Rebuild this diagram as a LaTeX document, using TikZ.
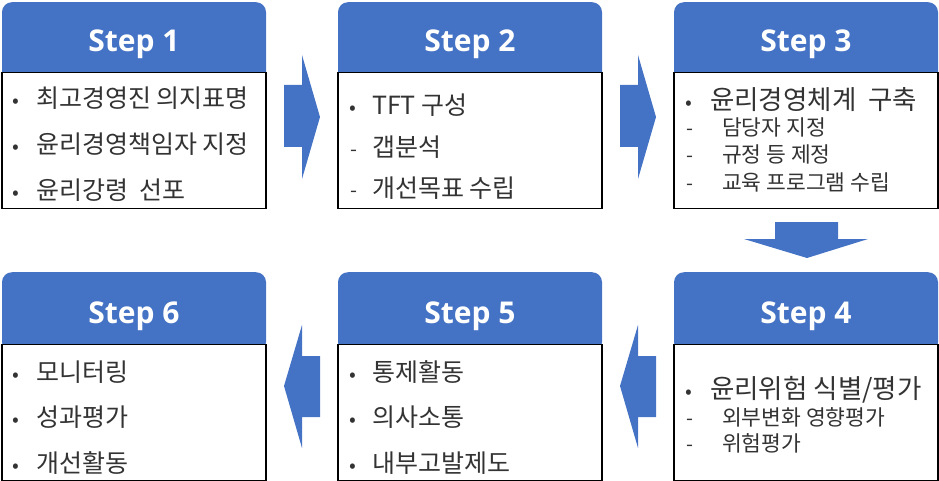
\documentclass[tikz,border=0pt]{standalone}
\usepackage{fontspec}
\setmainfont{Noto Sans CJK KR}
\newfontfamily\stepfont{Open Sans}
\usetikzlibrary{positioning}
\definecolor{hblue}{HTML}{4472C4}
\definecolor{txt}{HTML}{333333}
\tikzset{
  hdr/.style={fill=hblue, rounded corners=10pt, minimum width=264pt, minimum height=80pt, anchor=north, inner sep=0pt},
  body/.style={draw=black, line width=1.3pt, fill=white, minimum width=264pt, minimum height=136pt, anchor=north, inner sep=0pt},
  title/.style={text=white, font=\stepfont\bfseries\fontsize{30}{30}\selectfont, anchor=base},
  item/.style={text=txt, font=\fontsize{25}{25}\selectfont, anchor=base west, inner sep=0pt},
  itemb/.style={text=txt, font=\fontsize{26.5}{26.5}\selectfont, anchor=base west, inner sep=0pt},
  sub/.style={text=txt, font=\fontsize{21.5}{21.5}\selectfont, anchor=base west, inner sep=0pt},
  bul/.style={text=txt, font=\fontsize{20}{20}\selectfont, anchor=base, inner sep=0pt},
  blk/.style={fill=hblue}
}
\begin{document}
\begin{tikzpicture}[x=1pt,y=-1pt]
\useasboundingbox (0,0) rectangle (939,481);
% headers
\node[hdr] (h1) at (134,2) {};
\node[hdr] (h2) at (470,2) {};
\node[hdr] (h3) at (806,2) {};
\node[hdr] (h6) at (134,272) {};
\node[hdr] (h5) at (470,272) {};
\node[hdr] (h4) at (806,272) {};
% bodies
\node[body] (b1) at (134,72) {};
\node[body] (b2) at (470,72) {};
\node[body] (b3) at (806,72) {};
\node[body] (b6) at (134,344) {};
\node[body] (b5) at (470,344) {};
\node[body] (b4) at (806,344) {};
% titles
\node[title] (t1) at (134,52) {Step 1};
\node[title] (t2) at (470,52) {Step 2};
\node[title] (t3) at (806,52) {Step 3};
\node[title] (t6) at (134,323) {Step 6};
\node[title] (t5) at (470,323) {Step 5};
\node[title] (t4) at (806,323) {Step 4};
% box 1
\node[bul] (d11) at (16,108) {•};
\node[item] (i11) at (36,108) {최고경영진 의지표명};
\node[bul] (d12) at (16,154) {•};
\node[item] (i12) at (36,154) {윤리경영책임자 지정};
\node[bul] (d13) at (16,200) {•};
\node[item] (i13) at (36,200) {윤리강령\ \ 선포};
% box 2
\node[bul] (d21) at (353,115) {•};
\node[item] (i21) at (372,115) {TFT 구성};
\node[bul] (d22) at (354,157) {-};
\node[item] (i22) at (372,157) {갭분석};
\node[bul] (d23) at (354,197) {-};
\node[item] (i23) at (372,197) {개선목표 수립};
% box 3
\node[bul] (d31) at (689,110) {•};
\node[itemb] (i31) at (710,110) {윤리경영체계\ \ 구축};
\node[bul] (d32) at (690,136) {-};
\node[sub] (i32) at (722,136) {담당자 지정};
\node[bul] (d33) at (690,163) {-};
\node[sub] (i33) at (722,163) {규정 등 제정};
\node[bul] (d34) at (690,190) {-};
\node[sub] (i34) at (722,190) {교육 프로그램 수립};
% box 4
\node[bul] (d41) at (689,398) {•};
\node[itemb] (i41) at (710,398) {윤리위험 식별/평가};
\node[bul] (d42) at (690,425) {-};
\node[sub] (i42) at (722,425) {외부변화 영향평가};
\node[bul] (d43) at (690,451) {-};
\node[sub] (i43) at (722,451) {위험평가};
% box 5
\node[bul] (d51) at (353,381) {•};
\node[item] (i51) at (372,381) {통제활동};
\node[bul] (d52) at (353,426) {•};
\node[item] (i52) at (372,426) {의사소통};
\node[bul] (d53) at (353,472) {•};
\node[item] (i53) at (372,472) {내부고발제도};
% box 6
\node[bul] (d61) at (16,381) {•};
\node[item] (i61) at (36,381) {모니터링};
\node[bul] (d62) at (16,426) {•};
\node[item] (i62) at (36,426) {성과평가};
\node[bul] (d63) at (16,472) {•};
\node[item] (i63) at (36,472) {개선활동};
% block arrows
\fill[blk] (284,85) -- (302,85) -- (302,55) -- (320,117) -- (302,179) -- (302,147) -- (284,147) -- cycle;
\fill[blk] (620,85) -- (638,85) -- (638,55) -- (656,117) -- (638,179) -- (638,147) -- (620,147) -- cycle;
\fill[blk] (775,222) -- (838,222) -- (838,239) -- (868,239) -- (807,258) -- (744,239) -- (775,239) -- cycle;
\fill[blk] (656,356) -- (638,356) -- (638,325) -- (620,386) -- (638,448) -- (638,417) -- (656,417) -- cycle;
\fill[blk] (320,356) -- (302,356) -- (302,325) -- (284,386) -- (302,448) -- (302,417) -- (320,417) -- cycle;
\end{tikzpicture}
\end{document}
